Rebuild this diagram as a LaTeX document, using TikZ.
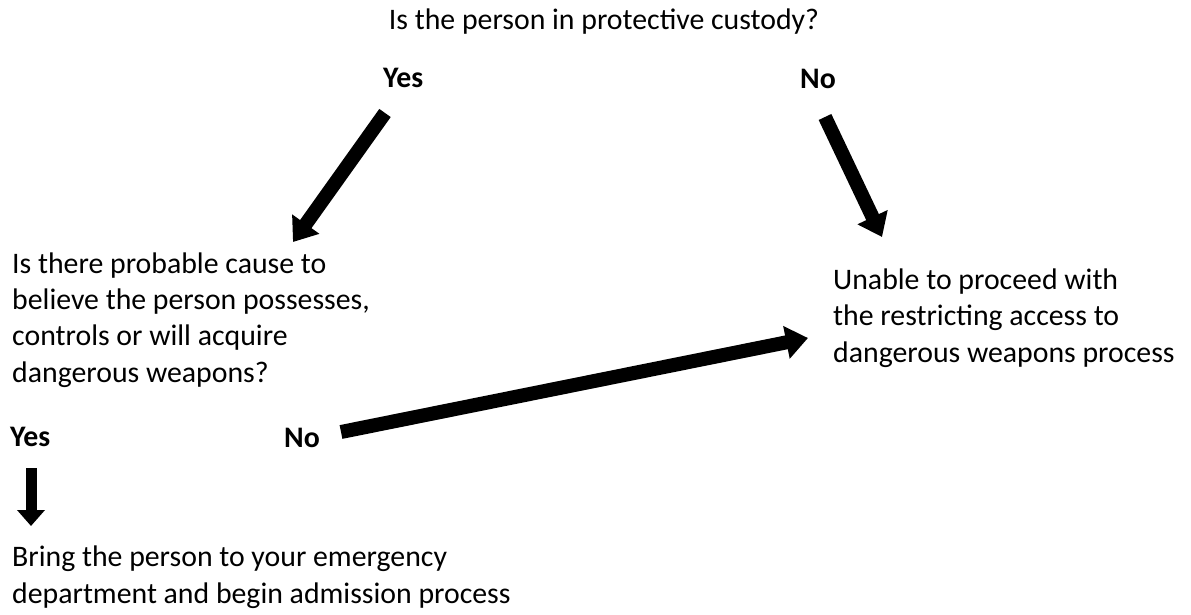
\documentclass[tikz,border=0pt]{standalone}
\usepackage{fontspec}
\setmainfont{Carlito}
\usetikzlibrary{arrows.meta,positioning}

\begin{document}
\begin{tikzpicture}[x=1pt,y=-1pt,
    txt/.style={inner sep=0pt,anchor=base west,align=left,
      font=\fontsize{29.8}{36.3}\selectfont},
    ans/.style={txt,font=\fontsize{29.8}{36.3}\selectfont\bfseries},
    fat/.style={line width=14pt,-{Triangle[width=32pt,length=22pt]}},
    thin/.style={line width=11pt,-{Triangle[width=27pt,length=16pt]}}]
  \useasboundingbox (0,0) rectangle (1191,615);

  % question and answers (multi-line nodes sit on their last baseline)
  \node[txt,anchor=base] (custody) at (604,30) {Is the person in protective custody?};
  \node[ans] (yesA) at (383,88) {Yes};
  \node[ans] (noA) at (800,89) {No};

  \node[txt] (cause) at (12,382) {Is there probable cause to\\
    believe the person possesses,\\
    controls or will acquire\\
    dangerous weapons?};
  \node[txt] (unable) at (833,362) {Unable to proceed with\\
    the restricting access to\\
    dangerous weapons process};

  \node[ans] (yesB) at (10,446) {Yes};
  \node[ans] (noB) at (284,447) {No};
  \node[txt] (bring) at (12,603) {Bring the person to your emergency\\
    department and begin admission process};

  % arrow ends
  \coordinate (yesAend) at (293,242);
  \coordinate (noAend) at (882,237);
  \coordinate (noBend) at (808,338);
  \coordinate (yesBend) at (31,526);

  \draw[fat] (385,113) -- (yesAend);
  \draw[fat] (825,117) -- (noAend);
  \draw[fat] (341,432) -- (noBend);
  \draw[thin] (31,468) -- (yesBend);
\end{tikzpicture}
\end{document}
